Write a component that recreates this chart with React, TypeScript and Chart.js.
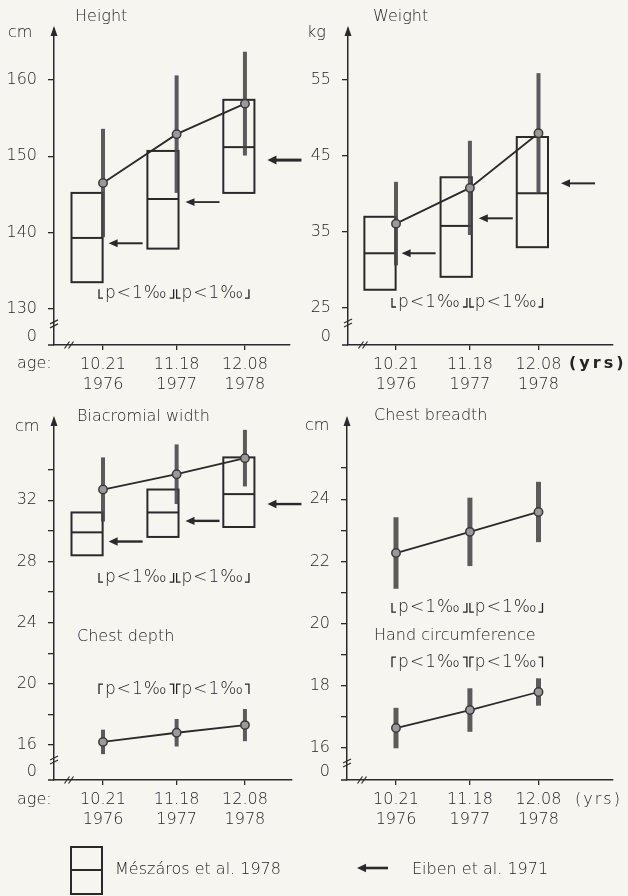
import React, { useEffect, useRef } from 'react';
import { Chart, registerables } from 'chart.js';

Chart.register(...registerables);

// ---------------- data ----------------
const AGES = [10.21, 11.18, 12.08];
const AGE_LABELS = ['10.21', '11.18', '12.08'];
const YEAR_LABELS = ['1976', '1977', '1978'];
const BOX_AGES = [10, 11, 12];

const HEIGHT_MEAN = [146.5, 152.9, 156.9];
const HEIGHT_SD = [7.1, 7.7, 6.8];
const HEIGHT_BOX_LOW = [133.5, 137.9, 145.2];
const HEIGHT_BOX_MID = [139.3, 144.4, 151.2];
const HEIGHT_BOX_HIGH = [145.2, 150.7, 157.4];
const HEIGHT_EIBEN = [138.6, 144.0, 149.5];

const WEIGHT_MEAN = [36.1, 40.8, 48.0];
const WEIGHT_SD = [5.5, 6.2, 7.9];
const WEIGHT_BOX_LOW = [27.4, 29.1, 33.0];
const WEIGHT_BOX_MID = [32.2, 35.8, 40.1];
const WEIGHT_BOX_HIGH = [37.0, 42.2, 47.5];
const WEIGHT_EIBEN = [32.2, 36.8, 41.4];

const BIACROMIAL_MEAN = [32.7, 33.7, 34.75];
const BIACROMIAL_SD = [2.1, 1.95, 1.85];
const BIACROMIAL_BOX_LOW = [28.4, 29.6, 30.25];
const BIACROMIAL_BOX_MID = [29.9, 31.2, 32.4];
const BIACROMIAL_BOX_HIGH = [31.2, 32.7, 34.8];
const BIACROMIAL_EIBEN = [29.3, 30.65, 31.75];

const CHEST_DEPTH_MEAN = [16.2, 16.8, 17.3];
const CHEST_DEPTH_SD = [0.8, 0.9, 1.05];

const CHEST_BREADTH_MEAN = [22.27, 22.95, 23.59];
const CHEST_BREADTH_SD = [1.15, 1.1, 0.97];

const HAND_MEAN = [16.64, 17.22, 17.8];
const HAND_SD = [0.65, 0.7, 0.44];

const HEIGHT_TICKS = [130, 140, 150, 160];
const WEIGHT_TICKS = [25, 35, 45, 55];
const BL_TICKS = [16, 18, 20, 22, 24, 26, 28, 30, 32, 34];
const BL_LABELS = [16, 20, 24, 28, 32];
const BR_TICKS = [16, 17, 18, 19, 20, 21, 22, 23, 24, 25];
const BR_LABELS = [16, 18, 20, 22, 24];

const P_TEXT = 'p<1‰';
const LEGEND_BOX_TEXT = 'Mészáros et al. 1978';
const LEGEND_ARROW_TEXT = 'Eiben et al. 1971';

// ---------------- style ----------------
const BG = '#f6f5f0';
const INK = '#2a2a2a';
const TEXT = '#242424';
const BAR = 'rgba(70,70,70,0.88)';
const FONT = "'DejaVu Sans', 'Liberation Sans', sans-serif";
const FONT_SIZE = 16;
const BOX_HALF = 0.205; // years
const ARROW_GAP = [6, 7, 13];
const ARROW_LEN = 34;
const BRACKET_OFFSETS = [[-4, -3], [0, 4]];

type Series = {
  mean: number[];
  sd: number[];
  box?: { low: number[]; mid: number[]; high: number[] };
  eiben?: number[];
  barWidth: number;
};
type Note = { text: string; x: number; y: number; bold?: boolean; spacing?: number };
type Panel = {
  left: number; top: number; width: number; height: number;
  padTop: number; padRight: number; yWidth: number; xHeight: number;
  xMin: number; xMax: number; yMin: number; yMax: number;
  yTicks: number[]; yLabels: number[];
  series: Series[];
  pNotes: { y: number; up: boolean }[];
  notes: Note[];
  arrowWidths: number[];
  legend?: 'box' | 'arrow';
};

const PANELS: Panel[] = [
  {
    left: 0, top: 0, width: 314, height: 400, padTop: 29, padRight: 24, yWidth: 54, xHeight: 55,
    xMin: 9.5644, xMax: 12.6737, yMin: 125.27, yMax: 166.68,
    yTicks: HEIGHT_TICKS, yLabels: HEIGHT_TICKS,
    series: [{ mean: HEIGHT_MEAN, sd: HEIGHT_SD, box: { low: HEIGHT_BOX_LOW, mid: HEIGHT_BOX_MID, high: HEIGHT_BOX_HIGH }, eiben: HEIGHT_EIBEN, barWidth: 4 }],
    pNotes: [{ y: 131.4, up: true }],
    notes: [
      { text: 'Height', x: 75, y: 17 },
      { text: 'cm', x: 8, y: 33 },
      { text: 'age:', x: 17, y: 364 },
    ],
    arrowWidths: [2, 1.8, 3],
  },
  {
    left: 300, top: 0, width: 328, height: 400, padTop: 29, padRight: 15, yWidth: 48, xHeight: 55,
    xMin: 9.58, xMax: 13.058, yMin: 20.13, yMax: 61.71,
    yTicks: WEIGHT_TICKS, yLabels: WEIGHT_TICKS,
    series: [{ mean: WEIGHT_MEAN, sd: WEIGHT_SD, box: { low: WEIGHT_BOX_LOW, mid: WEIGHT_BOX_MID, high: WEIGHT_BOX_HIGH }, eiben: WEIGHT_EIBEN, barWidth: 4 }],
    pNotes: [{ y: 25.13, up: true }],
    notes: [
      { text: 'Weight', x: 73, y: 17 },
      { text: 'kg', x: 7, y: 33 },
      { text: '(yrs)', x: 269, y: 364, bold: true, spacing: 3 },
    ],
    arrowWidths: [2, 2, 2],
  },
  {
    left: 0, top: 390, width: 314, height: 506, padTop: 29, padRight: 22, yWidth: 54, xHeight: 116,
    xMin: 9.5644, xMax: 12.70, yMin: 13.71, yMax: 37.31,
    yTicks: BL_TICKS, yLabels: BL_LABELS,
    series: [
      { mean: BIACROMIAL_MEAN, sd: BIACROMIAL_SD, box: { low: BIACROMIAL_BOX_LOW, mid: BIACROMIAL_BOX_MID, high: BIACROMIAL_BOX_HIGH }, eiben: BIACROMIAL_EIBEN, barWidth: 4 },
      { mean: CHEST_DEPTH_MEAN, sd: CHEST_DEPTH_SD, barWidth: 4 },
    ],
    pNotes: [{ y: 26.65, up: true }, { y: 19.33, up: false }],
    notes: [
      { text: 'Biacromial width', x: 77, y: 27 },
      { text: 'cm', x: 15, y: 37 },
      { text: 'Chest depth', x: 77, y: 247 },
      { text: 'age:', x: 17, y: 410 },
      { text: LEGEND_BOX_TEXT, x: 115, y: 480 },
    ],
    arrowWidths: [2.4, 2.4, 2.4],
    legend: 'box',
  },
  {
    left: 300, top: 390, width: 328, height: 506, padTop: 29, padRight: 15, yWidth: 47, xHeight: 116,
    xMin: 9.567, xMax: 13.058, yMin: 14.97, yMax: 26.58,
    yTicks: BR_TICKS, yLabels: BR_LABELS,
    series: [
      { mean: CHEST_BREADTH_MEAN, sd: CHEST_BREADTH_SD, barWidth: 5 },
      { mean: HAND_MEAN, sd: HAND_SD, barWidth: 5 },
    ],
    pNotes: [{ y: 20.37, up: true }, { y: 18.6, up: false }],
    notes: [
      { text: 'Chest breadth', x: 74, y: 26 },
      { text: 'cm', x: 5, y: 36 },
      { text: 'Hand circumference', x: 74, y: 246 },
      { text: '(yrs)', x: 275, y: 410, spacing: 2 },
      { text: LEGEND_ARROW_TEXT, x: 112, y: 480 },
    ],
    arrowWidths: [2, 2, 2],
    legend: 'arrow',
  },
];

function drawArrowLeft(ctx: CanvasRenderingContext2D, tipX: number, y: number, len: number, lw: number) {
  const headL = 9;
  const headW = 3 + lw * 0.5;
  ctx.beginPath();
  ctx.lineWidth = lw;
  ctx.moveTo(tipX + headL - 1, y);
  ctx.lineTo(tipX + len, y);
  ctx.stroke();
  ctx.beginPath();
  ctx.moveTo(tipX, y);
  ctx.lineTo(tipX + headL, y - headW);
  ctx.lineTo(tipX + headL, y + headW);
  ctx.closePath();
  ctx.fill();
}

function makePlugin(p: Panel) {
  return {
    id: 'sketch',
    beforeDatasetsDraw(chart: any) {
      const ctx: CanvasRenderingContext2D = chart.ctx;
      const xs = chart.scales.x;
      const ys = chart.scales.y;
      ctx.save();
      ctx.strokeStyle = INK;
      p.series.forEach((s) => {
        if (!s.box) return;
        ctx.lineWidth = 2;
        BOX_AGES.forEach((age, i) => {
          const l = xs.getPixelForValue(age - BOX_HALF);
          const r = xs.getPixelForValue(age + BOX_HALF);
          const t = ys.getPixelForValue(s.box!.high[i]);
          const b = ys.getPixelForValue(s.box!.low[i]);
          const m = ys.getPixelForValue(s.box!.mid[i]);
          ctx.strokeRect(l, t, r - l, b - t);
          ctx.beginPath();
          ctx.moveTo(l, m);
          ctx.lineTo(r, m);
          ctx.stroke();
        });
      });
      ctx.strokeStyle = BAR;
      ctx.lineCap = 'butt';
      p.series.forEach((s) => {
        ctx.lineWidth = s.barWidth;
        AGES.forEach((age, i) => {
          const x = xs.getPixelForValue(age);
          ctx.beginPath();
          ctx.moveTo(x, ys.getPixelForValue(s.mean[i] + s.sd[i]));
          ctx.lineTo(x, ys.getPixelForValue(s.mean[i] - s.sd[i]));
          ctx.stroke();
        });
      });
      ctx.restore();
    },
    afterDatasetsDraw(chart: any) {
      const ctx: CanvasRenderingContext2D = chart.ctx;
      const xs = chart.scales.x;
      const ys = chart.scales.y;
      ctx.save();
      ctx.strokeStyle = INK;
      ctx.fillStyle = INK;
      p.series.forEach((s) => {
        if (!s.eiben) return;
        s.eiben.forEach((v, i) => {
          const tip = xs.getPixelForValue(BOX_AGES[i] + BOX_HALF) + ARROW_GAP[i];
          drawArrowLeft(ctx, tip, ys.getPixelForValue(v), ARROW_LEN, p.arrowWidths[i]);
        });
      });
      // significance brackets
      ctx.lineWidth = 1.3;
      ctx.strokeStyle = TEXT;
      ctx.fillStyle = TEXT;
      ctx.font = `300 17px ${FONT}`;
      p.pNotes.forEach((n) => {
        const yb = ys.getPixelForValue(n.y);
        for (let k = 0; k < 2; k++) {
          const x1 = xs.getPixelForValue(AGES[k]) + BRACKET_OFFSETS[k][0];
          const x2 = xs.getPixelForValue(AGES[k + 1]) + BRACKET_OFFSETS[k][1];
          ctx.beginPath();
          if (n.up) {
            ctx.moveTo(x1, yb - 9); ctx.lineTo(x1, yb); ctx.lineTo(x1 + 4, yb);
            ctx.moveTo(x2 - 4, yb); ctx.lineTo(x2, yb); ctx.lineTo(x2, yb - 9);
          } else {
            ctx.moveTo(x1, yb); ctx.lineTo(x1, yb - 10); ctx.lineTo(x1 + 4, yb - 10);
            ctx.moveTo(x2 - 4, yb - 10); ctx.lineTo(x2, yb - 10); ctx.lineTo(x2, yb);
          }
          ctx.stroke();
          ctx.textAlign = 'center';
          ctx.textBaseline = 'alphabetic';
          (ctx as any).letterSpacing = '1px';
          ctx.fillText(P_TEXT, (x1 + x2) / 2, yb);
          (ctx as any).letterSpacing = '0px';
        }
      });
      ctx.restore();
    },
    afterDraw(chart: any) {
      const ctx: CanvasRenderingContext2D = chart.ctx;
      const a = chart.chartArea;
      const ys = chart.scales.y;
      ctx.save();
      ctx.strokeStyle = INK;
      ctx.fillStyle = INK;
      // y-axis arrow
      ctx.beginPath();
      ctx.moveTo(a.left, a.top - 3);
      ctx.lineTo(a.left - 3.5, a.top + 7);
      ctx.lineTo(a.left + 3.5, a.top + 7);
      ctx.closePath();
      ctx.fill();
      // x-axis overhang
      ctx.lineWidth = 1.5;
      ctx.beginPath();
      ctx.moveTo(a.left - 6, a.bottom);
      ctx.lineTo(a.left, a.bottom);
      ctx.stroke();
      // breaks
      ctx.lineWidth = 1.2;
      const yb = ys.getPixelForValue(p.yTicks[0]) + 13;
      for (let k = 0; k < 2; k++) {
        ctx.beginPath();
        ctx.moveTo(a.left - 4, yb + 2 + k * 4);
        ctx.lineTo(a.left + 4, yb - 2 + k * 4);
        ctx.stroke();
      }
      for (let k = 0; k < 2; k++) {
        const xb = a.left + 13 + k * 4;
        ctx.beginPath();
        ctx.moveTo(xb - 2.5, a.bottom + 3.5);
        ctx.lineTo(xb + 2.5, a.bottom - 3.5);
        ctx.stroke();
      }
      // zero label
      ctx.fillStyle = TEXT;
      ctx.font = `300 ${FONT_SIZE}px ${FONT}`;
      ctx.textAlign = 'right';
      ctx.textBaseline = 'middle';
      ctx.fillText('0', a.left - 17, a.bottom - 8);
      // notes
      ctx.textAlign = 'left';
      p.notes.forEach((n) => {
        ctx.font = `${n.bold ? 'bold' : '300'} ${FONT_SIZE}px ${FONT}`;
        (ctx as any).letterSpacing = `${n.spacing || 0}px`;
        ctx.fillText(n.text, n.x, n.y);
      });
      (ctx as any).letterSpacing = '0px';
      // legend graphics
      ctx.strokeStyle = INK;
      ctx.fillStyle = INK;
      if (p.legend === 'box') {
        ctx.lineWidth = 2;
        ctx.strokeRect(71, 457, 31, 47);
        ctx.beginPath();
        ctx.moveTo(71, 480);
        ctx.lineTo(102, 480);
        ctx.stroke();
      } else if (p.legend === 'arrow') {
        drawArrowLeft(ctx, 57, 478, 31, 2.6);
      }
      ctx.restore();
    },
  };
}

function buildConfig(p: Panel): any {
  const tickFont = { family: FONT, size: FONT_SIZE, weight: 300 as any, lineHeight: 1.3 };
  return {
    type: 'scatter',
    data: {
      datasets: p.series.map((s) => ({
        data: AGES.map((age, i) => ({ x: age, y: s.mean[i] })),
        showLine: true,
        borderColor: INK,
        borderWidth: 1.8,
        pointRadius: 4.2,
        pointBackgroundColor: '#9a9a9a',
        pointBorderColor: '#3a3a3a',
        pointBorderWidth: 1.5,
      })),
    },
    options: {
      animation: false,
      responsive: false,
      maintainAspectRatio: false,
      events: [],
      layout: { padding: { left: 0, top: p.padTop, right: p.padRight, bottom: 0 } },
      plugins: { legend: { display: false }, tooltip: { enabled: false } },
      scales: {
        x: {
          type: 'linear',
          min: p.xMin,
          max: p.xMax,
          afterFit: (s: any) => { s.height = p.xHeight; },
          afterBuildTicks: (s: any) => { s.ticks = AGES.map((v) => ({ value: v })); },
          ticks: {
            autoSkip: false,
            maxRotation: 0,
            padding: 4,
            color: TEXT,
            font: tickFont,
            callback: (_v: any, i: number) => [AGE_LABELS[i], YEAR_LABELS[i]],
          },
          grid: { display: true, drawOnChartArea: false, drawTicks: true, tickLength: 5, color: INK, lineWidth: 1.3 },
          border: { display: true, color: INK, width: 1.5 },
        },
        y: {
          type: 'linear',
          min: p.yMin,
          max: p.yMax,
          afterFit: (s: any) => { s.width = p.yWidth; },
          afterBuildTicks: (s: any) => { s.ticks = p.yTicks.map((v) => ({ value: v })); },
          ticks: {
            autoSkip: false,
            padding: 11,
            color: TEXT,
            font: tickFont,
            callback: (v: any) => (p.yLabels.includes(Number(v)) ? String(v) : ''),
          },
          grid: { display: true, drawOnChartArea: false, drawTicks: true, tickLength: 6, color: INK, lineWidth: 1.3 },
          border: { display: true, color: INK, width: 1.5 },
        },
      },
    },
    plugins: [makePlugin(p)],
  };
}

function PanelChart({ panel }: { panel: Panel }) {
  const ref = useRef<HTMLCanvasElement>(null);
  useEffect(() => {
    if (!ref.current) return;
    const chart = new Chart(ref.current, buildConfig(panel));
    return () => chart.destroy();
  }, [panel]);
  return (
    <canvas
      ref={ref}
      width={panel.width}
      height={panel.height}
      style={{ position: 'absolute', left: panel.left, top: panel.top, width: panel.width, height: panel.height }}
    />
  );
}

export default function App() {
  return (
    <div style={{ position: 'absolute', left: 0, top: 0, width: 628, height: 896, background: BG, overflow: 'hidden' }}>
      {PANELS.map((p, i) => (
        <PanelChart key={i} panel={p} />
      ))}
    </div>
  );
}
